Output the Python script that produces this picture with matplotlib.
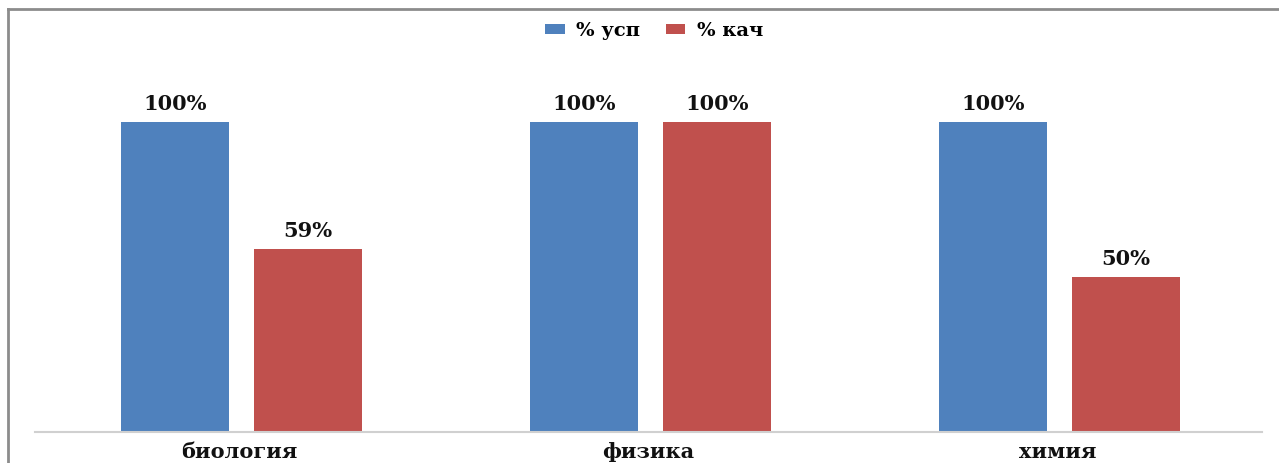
import matplotlib.pyplot as plt
import numpy as np
from matplotlib.lines import Line2D

# --- DATA ---
subjects = ['биология', 'физика', 'химия']
usp = [100, 100, 100]   # % усп
kach = [59, 100, 50]    # % кач
series_names = ['% усп', '% кач']

blue = '#4F81BD'
red = '#C0504D'
font = 'DejaVu Serif'

W, H = 1279, 463
fig = plt.figure(figsize=(W / 100, H / 100), dpi=100)
ax = fig.add_axes([35 / W, (H - 432) / H, (1262 - 35) / W, (432 - 60) / H])

x = np.arange(len(subjects))
bw = 0.264
off = 0.163
b1 = ax.bar(x - off + 0.005, usp, bw, color=blue, label=series_names[0], zorder=2)
b2 = ax.bar(x + off + 0.005, kach, bw, color=red, label=series_names[1], zorder=2)

for bars, vals in ((b1, usp), (b2, kach)):
    for r, v in zip(bars, vals):
        ax.annotate(f'{v}%', (r.get_x() + r.get_width() / 2, v),
                    xytext=(0, 6), textcoords='offset points',
                    ha='center', va='bottom', fontsize=15,
                    fontweight='bold', family=font, color='#111111')

ax.set_xlim(-0.5, 2.5)
ax.set_ylim(0, 120)
ax.set_yticks([])
ax.set_xticks(x)
ax.set_xticklabels(subjects, fontsize=15, fontweight='bold', family=font, color='#111111')
ax.tick_params(axis='x', length=0, pad=7)
for s in ['top', 'right', 'left']:
    ax.spines[s].set_visible(False)
ax.spines['bottom'].set_color('#d0d0d0')
ax.spines['bottom'].set_linewidth(1.5)

fig.legend(handles=[b1, b2], labels=series_names, loc='center',
           bbox_to_anchor=(654 / W, 1 - 31 / H), ncol=2, frameon=False,
           handlelength=1.0, handleheight=0.45, handletextpad=0.6, columnspacing=1.3,
           prop={'family': font, 'weight': 'bold', 'size': 14})

# outer frame (top and left edges)
fig.add_artist(Line2D([8 / W, 1], [1 - 9 / H, 1 - 9 / H], color='#8c8c8c', lw=2, transform=fig.transFigure))
fig.add_artist(Line2D([8 / W, 8 / W], [0, 1 - 9 / H], color='#8c8c8c', lw=2, transform=fig.transFigure))

fig.savefig('out.png', dpi=100)
